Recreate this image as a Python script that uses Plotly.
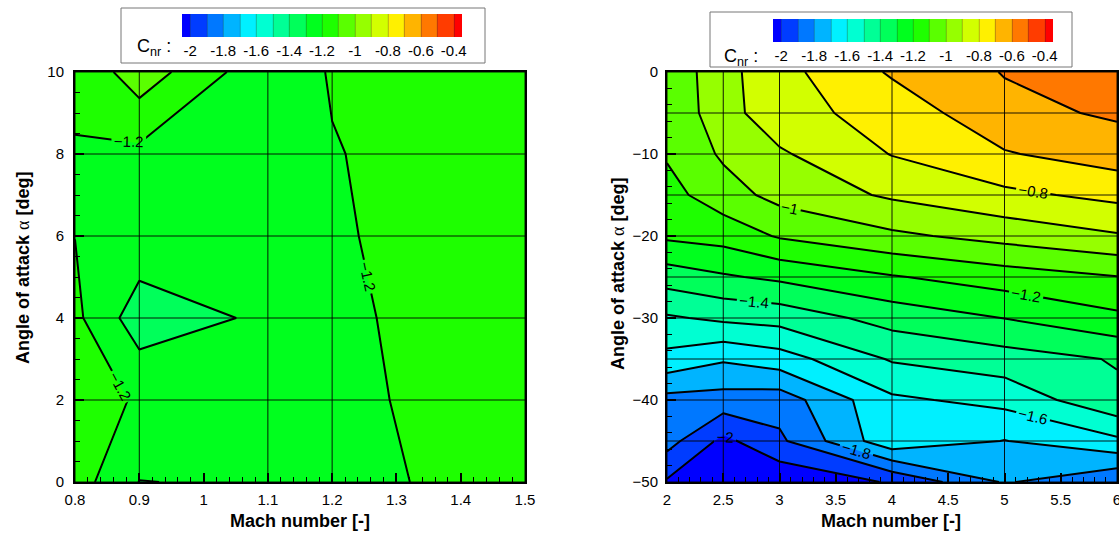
import plotly.graph_objects as go
import numpy as np

W, H = 1119, 536

# ---------------- data ----------------
# Left panel (transonic)
mach_left = [0.8, 0.9, 1.1, 1.2, 1.5]
alpha_left = [0, 2, 4, 6, 8, 10]
cnr_left = [
    [-1.154, -1.302, -1.289, -1.227, -1.160],   # alpha 0
    [-1.145, -1.212, -1.275, -1.217, -1.160],   # alpha 2
    [-1.177, -1.355, -1.282, -1.212, -1.160],   # alpha 4
    [-1.201, -1.234, -1.265, -1.208, -1.150],   # alpha 6
    [-1.204, -1.224, -1.260, -1.206, -1.120],   # alpha 8
    [-1.187, -1.042, -1.274, -1.191, -1.150],   # alpha 10
]

# Right panel (supersonic)
mach_right = [2, 2.5, 3, 4, 5, 6]
alpha_right = [-50, -45, -40, -35, -30, -25, -20, -15, -10, -5, 0]
cnr_right = [
    [-2.012, -2.100, -2.080, -1.990, -1.790, -1.890],   # -50
    [-1.861, -2.026, -1.920, -1.627, -1.703, -1.621],   # -45
    [-1.833, -1.840, -1.854, -1.618, -1.570, -1.420],   # -40
    [-1.630, -1.688, -1.645, -1.490, -1.443, -1.393],   # -35
    [-1.513, -1.480, -1.462, -1.361, -1.298, -1.221],   # -30
    [-1.354, -1.312, -1.280, -1.208, -1.150, -1.104],   # -25
    [-1.182, -1.161, -1.090, -1.020, -0.965, -0.910],   # -20
    [-1.135, -1.044, -0.968, -0.885, -0.823, -0.773],   # -15
    [-1.090, -0.985, -0.913, -0.796, -0.708, -0.651],   # -10
    [-1.080, -0.939, -0.838, -0.760, -0.629, -0.586],   # -5
    [-1.075, -0.933, -0.833, -0.688, -0.595, -0.540],   # 0
]

level_start, level_end, level_step = -2.0, -0.4, 0.1
cbar_vals = [-2, -1.8, -1.6, -1.4, -1.2, -1, -0.8, -0.6, -0.4]
cbar_text = ["-2", "-1.8", "-1.6", "-1.4", "-1.2", "-1", "-0.8", "-0.6", "-0.4"]

# ---------------- styling ----------------
FONT = "Liberation Sans, Arial, sans-serif"
colorscale = [[0.0, "rgb(0,0,255)"], [0.25, "rgb(0,255,255)"],
              [0.5, "rgb(0,255,0)"], [0.75, "rgb(255,255,0)"], [1.0, "rgb(255,0,0)"]]

def px_x(p):
    return p / W

def px_y(p):
    return 1 - p / H

fig = go.Figure()

def add_panel(mach, alpha, z, xa, ya, cb_left, cb_top):
    # filled bands
    fig.add_trace(go.Contour(
        x=mach, y=alpha, z=z, xaxis=xa, yaxis=ya,
        autocontour=False,
        contours=dict(start=level_start, end=level_end, size=level_step,
                      coloring="fill", showlines=False),
        colorscale=colorscale,
        line=dict(width=0, smoothing=0),
        hoverinfo="skip", showscale=False,
    ))
    # invisible twin, only used to draw the legend colour bar (with level separators)
    fig.add_trace(go.Contour(
        x=mach, y=alpha, z=z, xaxis=xa, yaxis=ya,
        autocontour=False, opacity=0,
        contours=dict(start=level_start, end=level_end, size=level_step,
                      coloring="fill", showlines=True),
        colorscale=colorscale,
        line=dict(width=0.6, color="rgba(40,40,40,0.55)", smoothing=0),
        hoverinfo="skip",
        colorbar=dict(
            orientation="h", x=px_x(cb_left), xanchor="left",
            y=px_y(cb_top), yanchor="top",
            len=280 / W, lenmode="fraction",
            thickness=23, thicknessmode="pixels",
            xpad=0, ypad=0, outlinewidth=0,
            tickmode="array", tickvals=cbar_vals, ticktext=cbar_text,
            ticks="", tickfont=dict(family=FONT, size=15, color="black"),
        ),
    ))
    # mesh lines
    mx, my = [], []
    for m in mach:
        mx += [m, m, None]
        my += [alpha[0], alpha[-1], None]
    for a in alpha:
        mx += [mach[0], mach[-1], None]
        my += [a, a, None]
    fig.add_trace(go.Scatter(x=mx, y=my, mode="lines", xaxis=xa, yaxis=ya,
                             line=dict(color="black", width=0.9),
                             hoverinfo="skip", showlegend=False))
    # odd contour lines (no labels)
    fig.add_trace(go.Contour(
        x=mach, y=alpha, z=z, xaxis=xa, yaxis=ya,
        autocontour=False,
        contours=dict(start=level_start + level_step, end=level_end - level_step,
                      size=2 * level_step, coloring="none", showlines=True),
        line=dict(color="black", width=2, smoothing=0),
        showscale=False, hoverinfo="skip",
    ))
    # even contour lines with labels
    fig.add_trace(go.Contour(
        x=mach, y=alpha, z=z, xaxis=xa, yaxis=ya,
        autocontour=False,
        contours=dict(start=level_start, end=level_end, size=2 * level_step,
                      coloring="none", showlines=True, showlabels=True,
                      labelfont=dict(family=FONT, size=15, color="black")),
        line=dict(color="black", width=2, smoothing=0),
        showscale=False, hoverinfo="skip",
    ))

add_panel(mach_left, alpha_left, cnr_left, "x", "y", 182, 14)
add_panel(mach_right, alpha_right, cnr_right, "x2", "y2", 773, 19)

axis_common = dict(
    showline=True, linewidth=2, linecolor="black", mirror=True,
    ticks="inside", ticklen=9, tickwidth=2, tickcolor="black",
    showgrid=False, zeroline=False, ticklabeloverflow="allow",
    tickfont=dict(family=FONT, size=15, color="black"),
)

fig.update_layout(
    width=W, height=H,
    margin=dict(l=0, r=0, t=0, b=0, autoexpand=False),
    paper_bgcolor="white", plot_bgcolor="white",
    showlegend=False,
    xaxis=dict(domain=[px_x(75), px_x(525)], range=[0.8, 1.5], tick0=0.8, dtick=0.1,
               minor=dict(ticks="inside", dtick=0.02, tick0=0.8, ticklen=5, tickwidth=1, tickcolor="black"),
               anchor="y", ticklabelstandoff=3, **axis_common),
    yaxis=dict(domain=[px_y(482), px_y(72)], range=[0, 10], tick0=0, dtick=2,
               minor=dict(ticks="inside", dtick=0.5, tick0=0, ticklen=5, tickwidth=1, tickcolor="black"),
               anchor="x", ticklabelstandoff=6, **axis_common),
    xaxis2=dict(domain=[px_x(667), px_x(1117)], range=[2, 6], tick0=2, dtick=0.5,
                minor=dict(ticks="inside", dtick=0.1, tick0=2, ticklen=5, tickwidth=1, tickcolor="black"),
                anchor="y2", ticklabelstandoff=3, **axis_common),
    yaxis2=dict(domain=[px_y(482), px_y(72)], range=[-50, 0], tick0=0, dtick=10,
                minor=dict(ticks="inside", dtick=2, tick0=0, ticklen=5, tickwidth=1, tickcolor="black"),
                anchor="x2", ticklabelstandoff=4, **axis_common),
)

title_font = dict(family=FONT, size=18, color="black")
alpha_sym = "<span style='font-family:Liberation Serif, serif; font-weight:normal'>α</span>"
ytitle = "<b>Angle of attack </b>" + alpha_sym + "<b> [deg]</b>"
annotations = [
    dict(x=px_x(300), y=px_y(521), text="<b>Mach number [-]</b>", showarrow=False,
         xref="paper", yref="paper", xanchor="center", yanchor="middle", font=title_font),
    dict(x=px_x(891), y=px_y(521), text="<b>Mach number [-]</b>", showarrow=False,
         xref="paper", yref="paper", xanchor="center", yanchor="middle", font=title_font),
    dict(x=px_x(23), y=px_y(268), text=ytitle, textangle=-90, showarrow=False,
         xref="paper", yref="paper", xanchor="center", yanchor="middle", font=title_font),
    dict(x=px_x(618), y=px_y(274), text=ytitle, textangle=-90, showarrow=False,
         xref="paper", yref="paper", xanchor="center", yanchor="middle", font=title_font),
    dict(x=px_x(135), y=px_y(47), text="C<sub>nr</sub> :", showarrow=False,
         xref="paper", yref="paper", xanchor="left", yanchor="middle",
         font=dict(family=FONT, size=18, color="black")),
    dict(x=px_x(722), y=px_y(57), text="C<sub>nr</sub> :", showarrow=False,
         xref="paper", yref="paper", xanchor="left", yanchor="middle",
         font=dict(family=FONT, size=18, color="black")),
]
fig.update_layout(annotations=annotations)

shapes = [
    dict(type="rect", xref="paper", yref="paper",
         x0=px_x(121), x1=px_x(485), y0=px_y(63), y1=px_y(8),
         line=dict(color="#777777", width=1), fillcolor="rgba(0,0,0,0)"),
    dict(type="rect", xref="paper", yref="paper",
         x0=px_x(710), x1=px_x(1072), y0=px_y(67), y1=px_y(12),
         line=dict(color="#777777", width=1), fillcolor="rgba(0,0,0,0)"),
]
fig.update_layout(shapes=shapes)

fig.write_html("out.html")
